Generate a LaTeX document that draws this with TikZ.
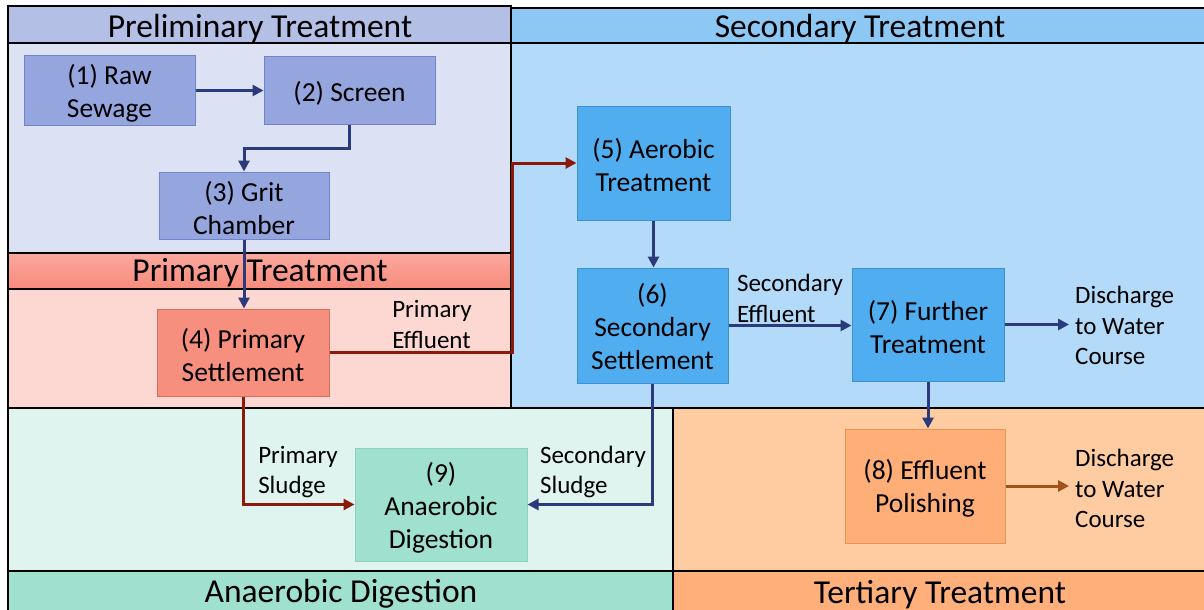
\documentclass[tikz,border=0pt]{standalone}
\usepackage{fontspec}
\setmainfont{Carlito}
\usetikzlibrary{arrows.meta}
\definecolor{prelimHead}{HTML}{B4BFE6}
\definecolor{prelimBody}{HTML}{DCE1F4}
\definecolor{secHead}{HTML}{8DC8F5}
\definecolor{secBody}{HTML}{B3DAF8}
\definecolor{primHeadTop}{HTML}{FBA89D}
\definecolor{primHeadBot}{HTML}{F68B7C}
\definecolor{primBody}{HTML}{FDD8D2}
\definecolor{anaBody}{HTML}{DFF4EE}
\definecolor{anaHead}{HTML}{A0E0CE}
\definecolor{terBody}{HTML}{FFCBA0}
\definecolor{terHead}{HTML}{FFB07A}
\definecolor{boxA}{HTML}{95A6DF}
\definecolor{boxAline}{HTML}{7083CC}
\definecolor{boxR}{HTML}{F78F7E}
\definecolor{boxRline}{HTML}{D46E5E}
\definecolor{boxB}{HTML}{4FADF0}
\definecolor{boxBline}{HTML}{3F8FD3}
\definecolor{boxO}{HTML}{FFAE78}
\definecolor{boxOline}{HTML}{E8935A}
\definecolor{boxG}{HTML}{A0E0CE}
\definecolor{boxGline}{HTML}{8FD0BE}
\definecolor{navy}{HTML}{2B3A7A}
\definecolor{darkred}{HTML}{8B1A0A}
\definecolor{brownarrow}{HTML}{A0521A}
\begin{document}
\begin{tikzpicture}[x=1pt,y=-1pt,
  region/.style={draw=black,line width=2pt},
  headtext/.style={font=\fontsize{33.5}{40}\selectfont,inner sep=0pt},
  procbox/.style={line width=1pt,inner sep=0pt},
  boxtext/.style={align=center,inner sep=0pt,yshift=-2.5pt,font=\fontsize{27.5}{33}\selectfont},
  lbl/.style={align=left,inner sep=2pt,font=\fontsize{25}{30.5}\selectfont},
  flow/.style={line width=3pt,-{Triangle[length=11pt,width=11pt]}},
]
\useasboundingbox (0,0) rectangle (1204,610);
\fill[white] (0,0) rectangle (1204,610);
% regions
\fill[secBody] (511,43) rectangle (1206,408);
\fill[secHead] (511,8) rectangle (1206,43);
\draw[region] (511,8) rectangle (1206,43);
\draw[region] (511,43) -- (511,408) -- (1206,408);
\fill[prelimBody] (8,43) rectangle (511,253);
\fill[prelimHead] (8,6) rectangle (511,43);
\draw[region] (8,6) rectangle (511,43);
\draw[region] (8,43) rectangle (511,253);
\shade[top color=primHeadTop,bottom color=primHeadBot] (8,253) rectangle (511,289);
\draw[region] (8,253) rectangle (511,289);
\fill[primBody] (8,289) rectangle (511,408);
\draw[region] (8,289) rectangle (511,408);
\fill[anaBody] (8,408) rectangle (673,571);
\fill[anaHead] (8,571) rectangle (673,612);
\fill[terBody] (673,408) rectangle (1206,571);
\fill[terHead] (673,571) rectangle (1206,612);
\draw[region] (8,408) rectangle (673,612);
\draw[region] (8,571) -- (1206,571);
\draw[region] (673,408) -- (1206,408);
\draw[region] (673,408) -- (673,612);
% region titles
\node[headtext] (tPre) at (260,28.5) {Preliminary Treatment};
\node[headtext] (tSec) at (860,28.5) {Secondary Treatment};
\node[headtext] (tPri) at (260,273) {Primary Treatment};
\node[headtext] (tAna) at (341,593.5) {Anaerobic Digestion};
\node[headtext] (tTer) at (940,594.5) {Tertiary Treatment};
% process boxes
\node[procbox,fill=boxA,draw=boxAline,minimum width=171pt,minimum height=69pt,
  label={[boxtext]center:{(1) Raw\\Sewage}}] (b1) at (109.5,90.5) {};
\node[procbox,fill=boxA,draw=boxAline,minimum width=171pt,minimum height=67pt,
  label={[boxtext]center:{(2) Screen}}] (b2) at (349.5,90.5) {};
\node[procbox,fill=boxA,draw=boxAline,minimum width=170pt,minimum height=67pt,
  label={[boxtext]center:{(3) Grit\\Chamber}}] (b3) at (244,205.5) {};
\node[procbox,fill=boxR,draw=boxRline,minimum width=172pt,minimum height=87pt,
  label={[boxtext]center:{(4) Primary\\Settlement}}] (b4) at (243,352.5) {};
\node[procbox,fill=boxB,draw=boxBline,minimum width=153pt,minimum height=114pt,
  label={[boxtext]center:{(5) Aerobic\\Treatment}}] (b5) at (653.5,163) {};
\node[procbox,fill=boxB,draw=boxBline,minimum width=151pt,minimum height=115pt,
  label={[boxtext,yshift=1pt]center:{(6)\\Secondary\\Settlement}}] (b6) at (652.5,325.5) {};
\node[procbox,fill=boxB,draw=boxBline,minimum width=152pt,minimum height=113pt,
  label={[boxtext]center:{(7) Further\\Treatment}}] (b7) at (928,324.5) {};
\node[procbox,fill=boxO,draw=boxOline,minimum width=160pt,minimum height=114pt,
  label={[boxtext]center:{(8) Effluent\\Polishing}}] (b8) at (925,486) {};
\node[procbox,fill=boxG,draw=boxGline,minimum width=172pt,minimum height=113pt,
  label={[boxtext,yshift=-0.5pt]center:{(9)\\Anaerobic\\Digestion}}] (b9) at (441,504.5) {};
% labels
\node[lbl] (lPE) at (432,324.5) {Primary\\Effluent};
\node[lbl] (lSE) at (790,298.5) {Secondary\\Effluent};
\node[lbl] (lPS) at (298,472) {Primary\\Sludge};
\node[lbl] (lSS) at (593,472) {Secondary\\Sludge};
\node[lbl,anchor=west] (d1) at (1073,325.5) {Discharge\\to Water\\Course};
\node[lbl,anchor=west] (d2) at (1073,488.5) {Discharge\\to Water\\Course};
\coordinate (c45) at (512,250);
% connectors
\draw[flow,navy] (b1.east) -- (b1.east -| b2.west);
\draw[flow,navy] (b2.south) -- ++(0,24) -| (b3.north);
\draw[flow,navy] (b3.south) -- (b3.south |- b4.north);
\draw[flow,darkred] (b4.east) -| (c45) |- (b5.west);
\draw[flow,navy] (b5.south) -- (b5.south |- b6.north);
\draw[flow,navy] (b6.east) -- (b6.east -| b7.west);
\draw[flow,navy] (b7.east) -- ([xshift=-4pt]d1.west |- b7.east);
\draw[flow,navy] (b7.south) -- (b7.south |- b8.north);
\draw[flow,brownarrow] (b8.east) -- ([xshift=-4pt]d2.west |- b8.east);
\draw[flow,darkred] (b4.south) |- (b9.west);
\draw[flow,navy] (b6.south) |- (b9.east);
\end{tikzpicture}
\end{document}
